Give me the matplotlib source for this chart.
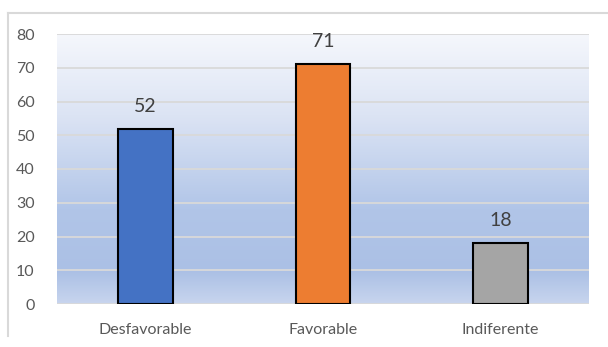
import numpy as np
import matplotlib
matplotlib.use("Agg")
import matplotlib.pyplot as plt
from matplotlib.colors import LinearSegmentedColormap
from matplotlib.lines import Line2D

categories = ["Desfavorable", "Favorable", "Indiferente"]
values = [52, 71, 18]
bar_colors = ["#4472c4", "#ed7d31", "#a5a5a5"]
y_ticks = [0, 10, 20, 30, 40, 50, 60, 70, 80]

plt.rcParams['font.family'] = ['Lato', 'DejaVu Sans']

W, H = 608, 347
fig = plt.figure(figsize=(W / 100, H / 100), dpi=100)
fig.patch.set_facecolor("white")

# outer chart frame (top and left visible)
fig.add_artist(Line2D([8 / W, 8 / W], [1 - 12.5 / H, 1 - 336 / H], color="#d9d9d9", lw=1.5, transform=fig.transFigure))
fig.add_artist(Line2D([8 / W, 1.0], [1 - 12.5 / H, 1 - 12.5 / H], color="#d9d9d9", lw=1.5, transform=fig.transFigure))

left, right = 57, 589
top, bottom = 34, 304
ax = fig.add_axes([left / W, 1 - bottom / H, (right - left) / W, (bottom - top) / H])

# gradient background
cmap = LinearSegmentedColormap.from_list(
    "bg",
    [(0.0, "#c8d5ee"), (0.12, "#abc0e5"), (0.35, "#b1c5e8"), (0.7, "#dce4f4"), (1.0, "#f5f7fc")],
)
grad = np.linspace(0, 1, 256).reshape(-1, 1)
ax.imshow(grad, extent=[0, 1, 0, 1], transform=ax.transAxes, origin="lower",
          aspect="auto", cmap=cmap, zorder=0)

x = np.arange(len(categories))
ax.set_xlim(-0.5, len(categories) - 0.5)
ax.set_ylim(0, 80)

for yv in y_ticks:
    ax.axhline(yv, color="#d9d9d9", lw=1.3, zorder=1)

bars = ax.bar(x, values, width=0.31, color=bar_colors, edgecolor="black", linewidth=1.5, zorder=3)

for xi, v in zip(x, values):
    ax.annotate(str(v), (xi, v), xytext=(0, 10), textcoords="offset points",
                ha="center", va="bottom", fontsize=14, color="#404040", zorder=4)

ax.set_yticks(y_ticks)
ax.set_yticklabels([str(t) for t in y_ticks])
ax.set_xticks(x)
ax.set_xticklabels(categories)
ax.tick_params(axis="y", length=0, pad=16, labelsize=11.5, labelcolor="#595959")
ax.tick_params(axis="x", length=0, pad=14, labelsize=11.5, labelcolor="#595959")
for s in ax.spines.values():
    s.set_visible(False)

fig.savefig("out.png", dpi=100, facecolor="white")
